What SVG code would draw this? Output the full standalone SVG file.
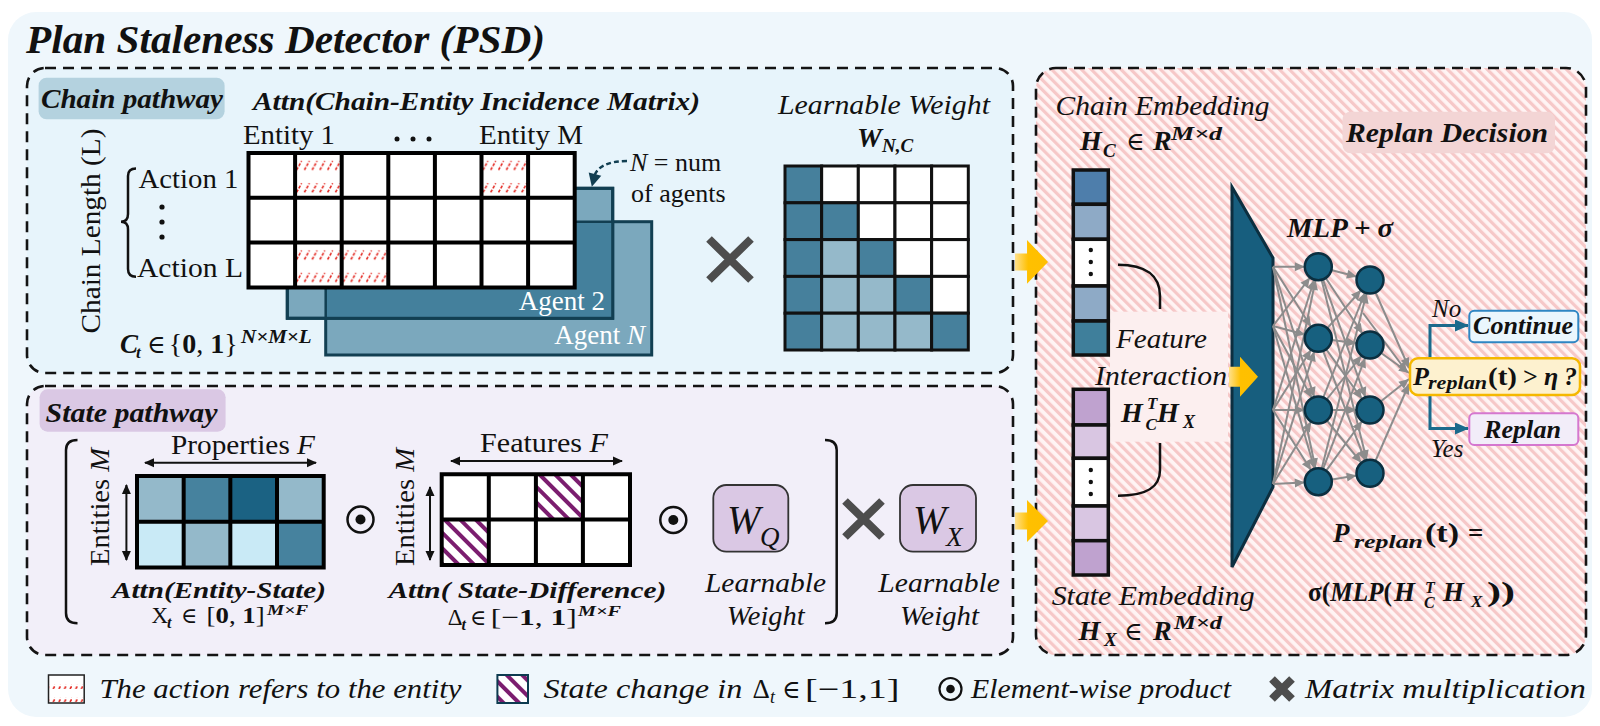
<svg xmlns="http://www.w3.org/2000/svg" width="1600" height="726" viewBox="0 0 1600 726">
<defs>
<style>
text { font-family: "Liberation Serif", "DejaVu Serif", serif; fill: #111; }
.bi { font-weight: 700; font-style: italic; }
.b { font-weight: 700; }
.i { font-style: italic; }
.n { font-weight: 400; font-style: normal; }
.w { fill: #ffffff; }
.box { stroke: #141414; stroke-width: 2.6; stroke-dasharray: 11 7; }
.gridline { fill: none; stroke: #000; stroke-width: 4; }
.wcell { stroke: #111; stroke-width: 3; }
.vcell { stroke: #111; stroke-width: 3.5; }
.edge { stroke: #8c8c8c; stroke-width: 2; fill: none; }
.node { fill: #17607f; stroke: #0b2f40; stroke-width: 2.5; }
.xsym { stroke: #4d4d4d; stroke-width: 8; fill: none; }
.dbl { stroke: #111; stroke-width: 2; fill: none; }
.brk { stroke: #111; stroke-width: 2.5; fill: none; }
.branch { stroke: #1b6a8c; stroke-width: 3; fill: none; }
.yarrow { fill: url(#ygrad); }
</style>
<pattern id="pinkStripes" width="7" height="7" patternUnits="userSpaceOnUse" patternTransform="rotate(-45)">
<rect width="7" height="7" fill="#fff4f4"/>
<rect width="3.2" height="7" fill="#f6c8c8"/>
</pattern>
<pattern id="redHatch" patternUnits="objectBoundingBox" width="0.16667" height="0.5">
<line x1="1.5" y1="17" x2="6.5" y2="8" stroke="#e3261f" stroke-width="1.6" stroke-dasharray="3 1.6"/>
</pattern>
<pattern id="purpleHatch" width="11" height="11" patternUnits="userSpaceOnUse" patternTransform="rotate(-45)">
<rect width="11" height="11" fill="#ffffff"/>
<rect width="4" height="11" fill="#7b1d6f"/>
</pattern>
<linearGradient id="ygrad" x1="0" y1="0" x2="1" y2="0">
<stop offset="0" stop-color="#ffe08a"/>
<stop offset="0.4" stop-color="#ffc000"/>
<stop offset="1" stop-color="#ffbf00"/>
</linearGradient>
<marker id="arrN" markerUnits="userSpaceOnUse" viewBox="0 0 30 10" markerWidth="30" markerHeight="10" refX="23.5" refY="5" orient="auto" overflow="visible">
<path d="M0,0.5 L10,5 L0,9.5 z" fill="#8c8c8c"/>
</marker>
<marker id="arrG" markerUnits="userSpaceOnUse" viewBox="0 0 10 10" markerWidth="10" markerHeight="10" refX="10" refY="5" orient="auto" overflow="visible">
<path d="M0,0.5 L10,5 L0,9.5 z" fill="#8c8c8c"/>
</marker>
<marker id="arrT" markerUnits="userSpaceOnUse" viewBox="0 0 14 12" markerWidth="14" markerHeight="12" refX="13" refY="6" orient="auto">
<path d="M0,0 L14,6 L0,12 z" fill="#1b6a8c"/>
</marker>
<marker id="arrK" markerUnits="userSpaceOnUse" viewBox="0 0 10 10" markerWidth="10" markerHeight="10" refX="9" refY="5" orient="auto-start-reverse">
<path d="M0,0.5 L10,5 L0,9.5 z" fill="#111"/>
</marker>
<marker id="arrD" markerUnits="userSpaceOnUse" viewBox="0 0 13 13" markerWidth="13" markerHeight="13" refX="2" refY="6.5" orient="auto" overflow="visible">
<path d="M0,0 L13,6.5 L0,13 z" fill="#123f52"/>
</marker>
</defs>

<!-- background -->
<rect x="8" y="12" width="1584" height="705" rx="28" fill="#eff7fc"/>
<g id="title"><text x="26" y="53" class="bi" font-size="39" textLength="519" lengthAdjust="spacingAndGlyphs">Plan Staleness Detector (PSD)</text></g>

<!-- ============ Chain pathway ============ -->
<g id="chain-pathway-box"><rect class="box" x="27" y="68" width="986" height="305" rx="18" fill="#e7f4fb"/></g>
<g id="chain-label">
<rect x="38.6" y="77.7" width="186" height="41.6" rx="8" fill="#b4d2df"/>
<text x="41" y="108" class="bi" font-size="28" textLength="182" lengthAdjust="spacingAndGlyphs">Chain pathway</text>
</g>
<g id="incidence-title"><text x="253" y="110" class="bi" font-size="25" textLength="447" lengthAdjust="spacingAndGlyphs">Attn(Chain-Entity Incidence Matrix)</text></g>
<g id="entity-labels">
<text x="243" y="144" font-size="27" textLength="92" lengthAdjust="spacingAndGlyphs">Entity 1</text>
<circle cx="397" cy="139" r="2.5" fill="#111"/><circle cx="413" cy="139" r="2.5" fill="#111"/><circle cx="429" cy="139" r="2.5" fill="#111"/>
<text x="479" y="144" font-size="27" textLength="104" lengthAdjust="spacingAndGlyphs">Entity M</text>
</g>
<g id="chain-length">
<text x="100" y="231" font-size="28" text-anchor="middle" transform="rotate(-90 100 231)" textLength="205" lengthAdjust="spacingAndGlyphs">Chain Length (L)</text>
<path class="brk" stroke-width="2" d="M136,168.5 Q128,168.5 128,176 L128,214 Q128,221.7 121,221.7 Q128,221.7 128,229.4 L128,269 Q128,276.7 136,276.7"/>
<text x="138.5" y="188" font-size="27" textLength="100" lengthAdjust="spacingAndGlyphs">Action 1</text>
<circle cx="162" cy="207" r="2.6" fill="#111"/><circle cx="162" cy="222" r="2.6" fill="#111"/><circle cx="162" cy="237" r="2.6" fill="#111"/>
<text x="137" y="277" font-size="27" textLength="106" lengthAdjust="spacingAndGlyphs">Action L</text>
</g>
<g id="agent-stack">
<rect x="325.7" y="221.7" width="326" height="133.3" fill="#7ba8bd" stroke="#123f52" stroke-width="3"/>
<rect x="287.3" y="188.3" width="325.4" height="130" fill="#7ba8bd" stroke="#123f52" stroke-width="3"/>
<rect x="325.7" y="221.7" width="287" height="96.6" fill="#44809c"/>
<path d="M325.7,318.3 V221.7 H612.7" stroke="#123f52" stroke-width="2.5" fill="none"/>
<rect x="287.3" y="188.3" width="325.4" height="130" fill="none" stroke="#123f52" stroke-width="3"/>
<text x="605" y="310" class="w" font-size="27" text-anchor="end">Agent 2</text>
<text x="645" y="344" class="w" font-size="27" text-anchor="end">Agent <tspan class="i w">N</tspan></text>
</g>
<g id="incidence-grid">
<rect x="248.5" y="153" width="326.2" height="134.4" fill="#fff"/>
<rect x="295.1" y="153" width="46.6" height="44.8" fill="url(#redHatch)"/>
<rect x="481.5" y="153" width="46.6" height="44.8" fill="url(#redHatch)"/>
<rect x="295.1" y="242.6" width="46.6" height="44.8" fill="url(#redHatch)"/>
<rect x="341.7" y="242.6" width="46.6" height="44.8" fill="url(#redHatch)"/>
<path class="gridline" d="M248.5,153 H574.7 V287.4 H248.5 Z M295.1,153 V287.4 M341.7,153 V287.4 M388.3,153 V287.4 M434.9,153 V287.4 M481.5,153 V287.4 M528.1,153 V287.4 M248.5,197.8 H574.7 M248.5,242.6 H574.7"/>
</g>
<g id="ct-formula">
<text x="120" y="353" class="bi" font-size="27">C</text>
<text x="136" y="358" class="bi" font-size="17">t</text>
<text x="147" y="353" font-size="25">∈</text>
<text x="168.7" y="353" font-size="27" textLength="69" lengthAdjust="spacingAndGlyphs">{<tspan class="b">0</tspan>, <tspan class="b">1</tspan>}</text>
<text x="241" y="343" class="bi" font-size="18" textLength="70.6" lengthAdjust="spacingAndGlyphs">N×M×L</text>
</g>
<g id="agents-annotation">
<text x="630" y="171" font-size="26"><tspan class="i">N</tspan> = num</text>
<text x="631" y="202" font-size="26">of agents</text>
</g>
<g id="times-1"><path class="xsym" d="M709,239 L751,280 M751,239 L709,280"/></g>
<g id="weight-nc">
<text x="778" y="114" class="i" font-size="27" textLength="212" lengthAdjust="spacingAndGlyphs">Learnable Weight</text>
<text x="857" y="147" class="bi" font-size="28">W</text>
<text x="882" y="152" class="bi" font-size="19">N,C</text>
<g class="wcell">
<rect x="785" y="166" width="36.66" height="36.8" fill="#46809c"/><rect x="821.66" y="166" width="36.66" height="36.8" fill="#fff"/><rect x="858.32" y="166" width="36.66" height="36.8" fill="#fff"/><rect x="894.98" y="166" width="36.66" height="36.8" fill="#fff"/><rect x="931.64" y="166" width="36.66" height="36.8" fill="#fff"/>
<rect x="785" y="202.8" width="36.66" height="36.8" fill="#46809c"/><rect x="821.66" y="202.8" width="36.66" height="36.8" fill="#46809c"/><rect x="858.32" y="202.8" width="36.66" height="36.8" fill="#fff"/><rect x="894.98" y="202.8" width="36.66" height="36.8" fill="#fff"/><rect x="931.64" y="202.8" width="36.66" height="36.8" fill="#fff"/>
<rect x="785" y="239.6" width="36.66" height="36.8" fill="#46809c"/><rect x="821.66" y="239.6" width="36.66" height="36.8" fill="#95b9ca"/><rect x="858.32" y="239.6" width="36.66" height="36.8" fill="#46809c"/><rect x="894.98" y="239.6" width="36.66" height="36.8" fill="#fff"/><rect x="931.64" y="239.6" width="36.66" height="36.8" fill="#fff"/>
<rect x="785" y="276.4" width="36.66" height="36.8" fill="#46809c"/><rect x="821.66" y="276.4" width="36.66" height="36.8" fill="#95b9ca"/><rect x="858.32" y="276.4" width="36.66" height="36.8" fill="#95b9ca"/><rect x="894.98" y="276.4" width="36.66" height="36.8" fill="#46809c"/><rect x="931.64" y="276.4" width="36.66" height="36.8" fill="#fff"/>
<rect x="785" y="313.2" width="36.66" height="36.8" fill="#46809c"/><rect x="821.66" y="313.2" width="36.66" height="36.8" fill="#95b9ca"/><rect x="858.32" y="313.2" width="36.66" height="36.8" fill="#95b9ca"/><rect x="894.98" y="313.2" width="36.66" height="36.8" fill="#95b9ca"/><rect x="931.64" y="313.2" width="36.66" height="36.8" fill="#46809c"/>
</g>
</g>

<!-- ============ State pathway ============ -->
<g id="state-pathway-box"><rect class="box" x="27" y="386" width="986" height="269" rx="18" fill="#f2eff9"/></g>
<g id="state-label">
<rect x="39.6" y="389.3" width="186" height="42.4" rx="8" fill="#dac8e4"/>
<text x="45.5" y="421.5" class="bi" font-size="28" textLength="172" lengthAdjust="spacingAndGlyphs">State pathway</text>
</g>
<g id="state-bracket">
<path class="brk" d="M77.5,440 Q66,440 66,450 V613 Q66,623.3 77.5,623.3"/>
<path class="brk" d="M825,440 Q836.7,440 836.7,450 V613 Q836.7,623.3 825,623.3"/>
</g>
<g id="entity-state">
<text x="109" y="507" font-size="28" text-anchor="middle" transform="rotate(-90 109 507)" textLength="118" lengthAdjust="spacingAndGlyphs">Entities <tspan class="i">M</tspan></text>
<path class="dbl" d="M126.4,485 V560" marker-start="url(#arrK)" marker-end="url(#arrK)"/>
<text x="171" y="454" font-size="28" textLength="144" lengthAdjust="spacingAndGlyphs">Properties <tspan class="i">F</tspan></text>
<path class="dbl" d="M145,462.7 H316" marker-start="url(#arrK)" marker-end="url(#arrK)"/>
<rect x="137" y="476" width="46.67" height="45.7" fill="#94b9ca"/><rect x="183.67" y="476" width="46.67" height="45.7" fill="#46829e"/><rect x="230.33" y="476" width="46.67" height="45.7" fill="#1b6283"/><rect x="277" y="476" width="46.67" height="45.7" fill="#94b9ca"/>
<rect x="137" y="521.7" width="46.67" height="45.7" fill="#c9eaf6"/><rect x="183.67" y="521.7" width="46.67" height="45.7" fill="#94b9ca"/><rect x="230.33" y="521.7" width="46.67" height="45.7" fill="#c9eaf6"/><rect x="277" y="521.7" width="46.67" height="45.7" fill="#46829e"/>
<path class="gridline" d="M137,476 H323.7 V567.4 H137 Z M183.67,476 V567.4 M230.33,476 V567.4 M277,476 V567.4 M137,521.7 H323.7"/>
<text x="112" y="598" class="bi" font-size="24" textLength="214" lengthAdjust="spacingAndGlyphs">Attn(Entity-State)</text>
<text x="151.5" y="623.3" font-size="23">X</text>
<text x="167" y="628" class="bi" font-size="16">t</text>
<text x="181" y="623.3" font-size="22">∈</text>
<text x="206.6" y="623.3" font-size="23" textLength="58" lengthAdjust="spacingAndGlyphs">[<tspan class="b">0</tspan>, <tspan class="b">1</tspan>]</text>
<text x="267" y="615" class="bi" font-size="15" textLength="41" lengthAdjust="spacingAndGlyphs">M×F</text>
</g>
<g id="odot-1"><circle cx="360.5" cy="519.5" r="13" fill="none" stroke="#111" stroke-width="2.5"/><circle cx="360.5" cy="519.5" r="5" fill="#111"/></g>
<g id="state-difference">
<text x="414" y="507" font-size="28" text-anchor="middle" transform="rotate(-90 414 507)" textLength="118" lengthAdjust="spacingAndGlyphs">Entities <tspan class="i">M</tspan></text>
<path class="dbl" d="M430,487 V560" marker-start="url(#arrK)" marker-end="url(#arrK)"/>
<text x="480" y="451.7" font-size="28" textLength="128" lengthAdjust="spacingAndGlyphs">Features <tspan class="i">F</tspan></text>
<path class="dbl" d="M451,461 H622" marker-start="url(#arrK)" marker-end="url(#arrK)"/>
<rect x="441.7" y="474.3" width="188.3" height="90.7" fill="#fff"/>
<rect x="535.9" y="474.3" width="47.08" height="45.35" fill="url(#purpleHatch)" stroke="#0d3b50" stroke-width="2"/>
<rect x="441.7" y="519.6" width="47.08" height="45.35" fill="url(#purpleHatch)" stroke="#0d3b50" stroke-width="2"/>
<path class="gridline" d="M441.7,474.3 H630 V565 H441.7 Z M488.8,474.3 V565 M535.9,474.3 V565 M582.9,474.3 V565 M441.7,519.6 H630"/>
<text x="388.4" y="598" class="bi" font-size="24" textLength="278" lengthAdjust="spacingAndGlyphs">Attn( State-Difference)</text>
<text x="447.7" y="625" font-size="23">Δ</text>
<text x="461.4" y="630" class="bi" font-size="16">t</text>
<text x="470" y="625" font-size="22">∈</text>
<text x="490.7" y="625" font-size="23" textLength="86" lengthAdjust="spacingAndGlyphs">[−<tspan class="b">1</tspan>, <tspan class="b">1</tspan>]</text>
<text x="578" y="616" class="bi" font-size="15" textLength="43" lengthAdjust="spacingAndGlyphs">M×F</text>
</g>
<g id="odot-2"><circle cx="673.3" cy="520" r="13" fill="none" stroke="#111" stroke-width="2.5"/><circle cx="673.3" cy="520" r="5" fill="#111"/></g>
<g id="weight-q">
<rect x="713.3" y="485" width="75" height="66.7" rx="13" fill="#dac8e4" stroke="#333" stroke-width="1.8"/>
<text x="727" y="533" class="i" font-size="40">W</text>
<text x="760" y="546" class="i" font-size="27">Q</text>
<text x="705" y="591.7" class="i" font-size="27" textLength="121" lengthAdjust="spacingAndGlyphs">Learnable</text>
<text x="726.7" y="625" class="i" font-size="27" textLength="78" lengthAdjust="spacingAndGlyphs">Weight</text>
</g>
<g id="times-2"><path class="xsym" stroke-width="7" d="M845,501 L882,537 M882,501 L845,537"/></g>
<g id="weight-x">
<rect x="900" y="485" width="76" height="66.7" rx="13" fill="#dac8e4" stroke="#333" stroke-width="1.8"/>
<text x="913" y="533" class="i" font-size="40">W</text>
<text x="946" y="546" class="i" font-size="27">X</text>
<text x="878.3" y="591.7" class="i" font-size="27" textLength="121.7" lengthAdjust="spacingAndGlyphs">Learnable</text>
<text x="900" y="625" class="i" font-size="27" textLength="79" lengthAdjust="spacingAndGlyphs">Weight</text>
</g>

<!-- ============ Replan decision ============ -->
<g id="replan-box"><rect class="box" x="1036" y="68" width="550" height="587" rx="20" fill="url(#pinkStripes)"/></g>
<g id="replan-label">
<rect x="1342.5" y="111.7" width="212.5" height="41.6" rx="8" fill="#f3d5d5"/>
<text x="1346" y="141.7" class="bi" font-size="28" textLength="202" lengthAdjust="spacingAndGlyphs">Replan Decision</text>
</g>
<g id="feature-interaction">
<rect x="1110" y="311.7" width="118" height="130" fill="#fcefef"/>
<path class="brk" d="M1118,264.7 C1146,264.7 1160,276 1160,296 L1160,309"/>
<path class="brk" d="M1160,443 L1160,470 C1160,488 1146,495.7 1118,495.7"/>
<text x="1116" y="348" class="i" font-size="28" textLength="91" lengthAdjust="spacingAndGlyphs">Feature</text>
<text x="1095" y="385" class="i" font-size="28" textLength="132" lengthAdjust="spacingAndGlyphs">Interaction</text>
<text x="1121" y="421.7" class="bi" font-size="28">H</text>
<text x="1147" y="409" class="bi" font-size="17">T</text>
<text x="1145.5" y="430" class="bi" font-size="17">C</text>
<text x="1157" y="421.7" class="bi" font-size="28">H</text>
<text x="1183" y="428" class="bi" font-size="18">X</text>
</g>
<g id="chain-embedding">
<text x="1055.5" y="115" class="i" font-size="28" textLength="214" lengthAdjust="spacingAndGlyphs">Chain Embedding</text>
<text x="1080" y="150" class="bi" font-size="28">H</text>
<text x="1103" y="157" class="bi" font-size="19">C</text>
<text x="1126" y="150" font-size="25">∈</text>
<text x="1153" y="150" class="bi" font-size="28">R</text>
<text x="1171" y="140" class="bi" font-size="19" textLength="51" lengthAdjust="spacingAndGlyphs">M×d</text>
<g class="vcell">
<rect x="1073.3" y="170" width="35" height="34.3" fill="#4e7eab"/>
<rect x="1073.3" y="204.3" width="35" height="35" fill="#8eaac6"/>
<rect x="1073.3" y="239.3" width="35" height="46.7" fill="#fff"/>
<rect x="1073.3" y="286" width="35" height="35" fill="#8eaac6"/>
<rect x="1073.3" y="321" width="35" height="34" fill="#3f7f9b"/>
</g>
<circle cx="1090.8" cy="250" r="2.2" fill="#111"/><circle cx="1090.8" cy="262" r="2.2" fill="#111"/><circle cx="1090.8" cy="274" r="2.2" fill="#111"/>
</g>
<g id="state-embedding">
<g class="vcell">
<rect x="1073.3" y="389.3" width="35" height="35.7" fill="#bfa2cf"/>
<rect x="1073.3" y="425" width="35" height="33.3" fill="#d9c6e2"/>
<rect x="1073.3" y="458.3" width="35" height="47.7" fill="#fff"/>
<rect x="1073.3" y="506" width="35" height="34.7" fill="#d9c6e2"/>
<rect x="1073.3" y="540.7" width="35" height="34.3" fill="#bfa2cf"/>
</g>
<circle cx="1090.8" cy="470" r="2.2" fill="#111"/><circle cx="1090.8" cy="482" r="2.2" fill="#111"/><circle cx="1090.8" cy="494" r="2.2" fill="#111"/>
<text x="1051.7" y="605" class="i" font-size="28" textLength="203" lengthAdjust="spacingAndGlyphs">State Embedding</text>
<text x="1078.5" y="640" class="bi" font-size="28">H</text>
<text x="1104" y="646" class="bi" font-size="19">X</text>
<text x="1124" y="640" font-size="25">∈</text>
<text x="1153" y="640" class="bi" font-size="28">R</text>
<text x="1174" y="629" class="bi" font-size="19" textLength="48" lengthAdjust="spacingAndGlyphs">M×d</text>
</g>
<g id="mlp-input"><polygon points="1232,187 1273,258 1273,487 1232,567" fill="#175e7e" stroke="#0c2f40" stroke-width="3" stroke-linejoin="miter"/></g>

<g id="connectors">
<polygon class="yarrow" points="1015,253.5 1027,253.5 1027,240 1048,262 1027,283.7 1027,270.5 1015,270.5"/>
<polygon class="yarrow" points="1015,512.5 1027,512.5 1027,500 1048,521 1027,542 1027,529.5 1015,529.5"/>
<polygon class="yarrow" points="1229,366.7 1240,366.7 1240,356.7 1258,376.7 1240,396.7 1240,386.7 1229,386.7"/>
<path d="M627,161 C610,161 597,166 594.5,176" stroke="#123f52" stroke-width="2.5" stroke-dasharray="5 3" fill="none" marker-end="url(#arrD)"/>
<g class="edge" marker-end="url(#arrN)">
<line x1="1273" y1="266.7" x2="1318.3" y2="266.7"/><line x1="1273" y1="266.7" x2="1318.3" y2="338.3"/><line x1="1273" y1="266.7" x2="1318.3" y2="410"/><line x1="1273" y1="266.7" x2="1318.3" y2="481.7"/>
<line x1="1273" y1="326" x2="1318.3" y2="266.7"/><line x1="1273" y1="326" x2="1318.3" y2="338.3"/><line x1="1273" y1="326" x2="1318.3" y2="410"/><line x1="1273" y1="326" x2="1318.3" y2="481.7"/>
<line x1="1273" y1="410" x2="1318.3" y2="266.7"/><line x1="1273" y1="410" x2="1318.3" y2="338.3"/><line x1="1273" y1="410" x2="1318.3" y2="410"/><line x1="1273" y1="410" x2="1318.3" y2="481.7"/>
<line x1="1273" y1="484" x2="1318.3" y2="266.7"/><line x1="1273" y1="484" x2="1318.3" y2="338.3"/><line x1="1273" y1="484" x2="1318.3" y2="410"/><line x1="1273" y1="484" x2="1318.3" y2="481.7"/>
<line x1="1318.3" y1="266.7" x2="1370" y2="280"/><line x1="1318.3" y1="266.7" x2="1370" y2="345"/><line x1="1318.3" y1="266.7" x2="1370" y2="410"/><line x1="1318.3" y1="266.7" x2="1370" y2="473.3"/>
<line x1="1318.3" y1="338.3" x2="1370" y2="280"/><line x1="1318.3" y1="338.3" x2="1370" y2="345"/><line x1="1318.3" y1="338.3" x2="1370" y2="410"/><line x1="1318.3" y1="338.3" x2="1370" y2="473.3"/>
<line x1="1318.3" y1="410" x2="1370" y2="280"/><line x1="1318.3" y1="410" x2="1370" y2="345"/><line x1="1318.3" y1="410" x2="1370" y2="410"/><line x1="1318.3" y1="410" x2="1370" y2="473.3"/>
<line x1="1318.3" y1="481.7" x2="1370" y2="280"/><line x1="1318.3" y1="481.7" x2="1370" y2="345"/><line x1="1318.3" y1="481.7" x2="1370" y2="410"/><line x1="1318.3" y1="481.7" x2="1370" y2="473.3"/>
</g>
<g class="edge" marker-end="url(#arrG)">
<line x1="1370" y1="280" x2="1409" y2="368"/><line x1="1370" y1="345" x2="1409" y2="373"/><line x1="1370" y1="410" x2="1409" y2="379"/><line x1="1370" y1="473.3" x2="1409" y2="384"/>
<line x1="1363" y1="313" x2="1407" y2="372"/>
</g>
<path class="branch" d="M1430,358 V325.5 H1468" marker-end="url(#arrT)"/>
<path class="branch" d="M1430,395 V428.5 H1468" marker-end="url(#arrT)"/>
</g>

<g id="mlp-nodes">
<circle class="node" cx="1318.3" cy="266.7" r="13.5"/><circle class="node" cx="1318.3" cy="338.3" r="13.5"/><circle class="node" cx="1318.3" cy="410" r="13.5"/><circle class="node" cx="1318.3" cy="481.7" r="13.5"/>
<circle class="node" cx="1370" cy="280" r="13.5"/><circle class="node" cx="1370" cy="345" r="13.5"/><circle class="node" cx="1370" cy="410" r="13.5"/><circle class="node" cx="1370" cy="473.3" r="13.5"/>
<text x="1287" y="236.7" class="bi" font-size="27" textLength="106" lengthAdjust="spacingAndGlyphs">MLP + σ</text>
</g>
<g id="decision">
<rect x="1410" y="358.3" width="170" height="36.7" rx="8" fill="#fdf1cf" stroke="#f5b800" stroke-width="2.5"/>
<text x="1413" y="385" class="bi" font-size="26">P</text>
<text x="1428" y="389" class="bi" font-size="18" textLength="59" lengthAdjust="spacingAndGlyphs">replan</text>
<text x="1488" y="385" class="b" font-size="26" textLength="29" lengthAdjust="spacingAndGlyphs">(t)</text>
<text x="1523" y="385" class="b" font-size="26">&gt;</text>
<text x="1544" y="385" class="bi" font-size="26">η</text>
<text x="1564" y="385" class="bi" font-size="26">?</text>
</g>
<g id="continue">
<rect x="1469.3" y="310.7" width="109" height="31.6" rx="5" fill="#eaf6fd" stroke="#2f86c3" stroke-width="2"/>
<text x="1473" y="334" class="bi" font-size="26" textLength="100" lengthAdjust="spacingAndGlyphs">Continue</text>
<text x="1432" y="317" class="i" font-size="25">No</text>
</g>
<g id="replan">
<rect x="1469.3" y="413.3" width="109" height="31.7" rx="5" fill="#f2edf9" stroke="#d577cf" stroke-width="2"/>
<text x="1484" y="438" class="bi" font-size="26" textLength="77" lengthAdjust="spacingAndGlyphs">Replan</text>
<text x="1431" y="457" class="i" font-size="25">Yes</text>
</g>
<g id="replan-formula">
<text x="1333" y="541.7" class="bi" font-size="27">P</text>
<text x="1354" y="548" class="bi" font-size="19" textLength="69" lengthAdjust="spacingAndGlyphs">replan</text>
<text x="1425" y="541.7" class="b" font-size="27" textLength="34" lengthAdjust="spacingAndGlyphs">(t)</text>
<text x="1468" y="541.7" class="b" font-size="27">=</text>
<text x="1308" y="601" class="b" font-size="27" textLength="84" lengthAdjust="spacingAndGlyphs">σ(<tspan class="bi">MLP</tspan>(</text>
<text x="1394" y="601" class="bi" font-size="27">H</text>
<text x="1425" y="593" class="bi" font-size="16">T</text>
<text x="1424" y="608" class="bi" font-size="16">C</text>
<text x="1443" y="601" class="bi" font-size="27">H</text>
<text x="1471" y="607" class="bi" font-size="17">X</text>
<text x="1487" y="601" class="b" font-size="27" textLength="28" lengthAdjust="spacingAndGlyphs">))</text>
</g>

<!-- ============ Legend ============ -->
<g id="legend">
<rect x="48.5" y="675" width="35.7" height="28" fill="#fff" stroke="#222" stroke-width="1.5"/>
<rect x="49.5" y="676" width="33.7" height="26" fill="url(#redHatch)"/>
<text x="99.5" y="698" class="i" font-size="27" textLength="362" lengthAdjust="spacingAndGlyphs">The action refers to the entity</text>
<rect x="497.4" y="675" width="30.6" height="28" fill="url(#purpleHatch)" stroke="#0d3b50" stroke-width="2"/>
<text x="543.4" y="698" class="i" font-size="27" textLength="199" lengthAdjust="spacingAndGlyphs">State change in</text>
<text x="752.6" y="698" font-size="27">Δ</text>
<text x="770" y="703" class="i" font-size="18">t</text>
<text x="782" y="698" font-size="25">∈</text>
<text x="805" y="698" font-size="27" textLength="94.5" lengthAdjust="spacingAndGlyphs">[−1,1]</text>
<circle cx="950.5" cy="689" r="11" fill="none" stroke="#111" stroke-width="2.2"/><circle cx="950.5" cy="689" r="4.3" fill="#111"/>
<text x="971" y="698" class="i" font-size="27" textLength="260" lengthAdjust="spacingAndGlyphs">Element-wise product</text>
<path class="xsym" stroke-width="5" d="M1272,679 L1292,699 M1292,679 L1272,699"/>
<text x="1305" y="698" class="i" font-size="27" textLength="281" lengthAdjust="spacingAndGlyphs">Matrix multiplication</text>
</g>
</svg>
